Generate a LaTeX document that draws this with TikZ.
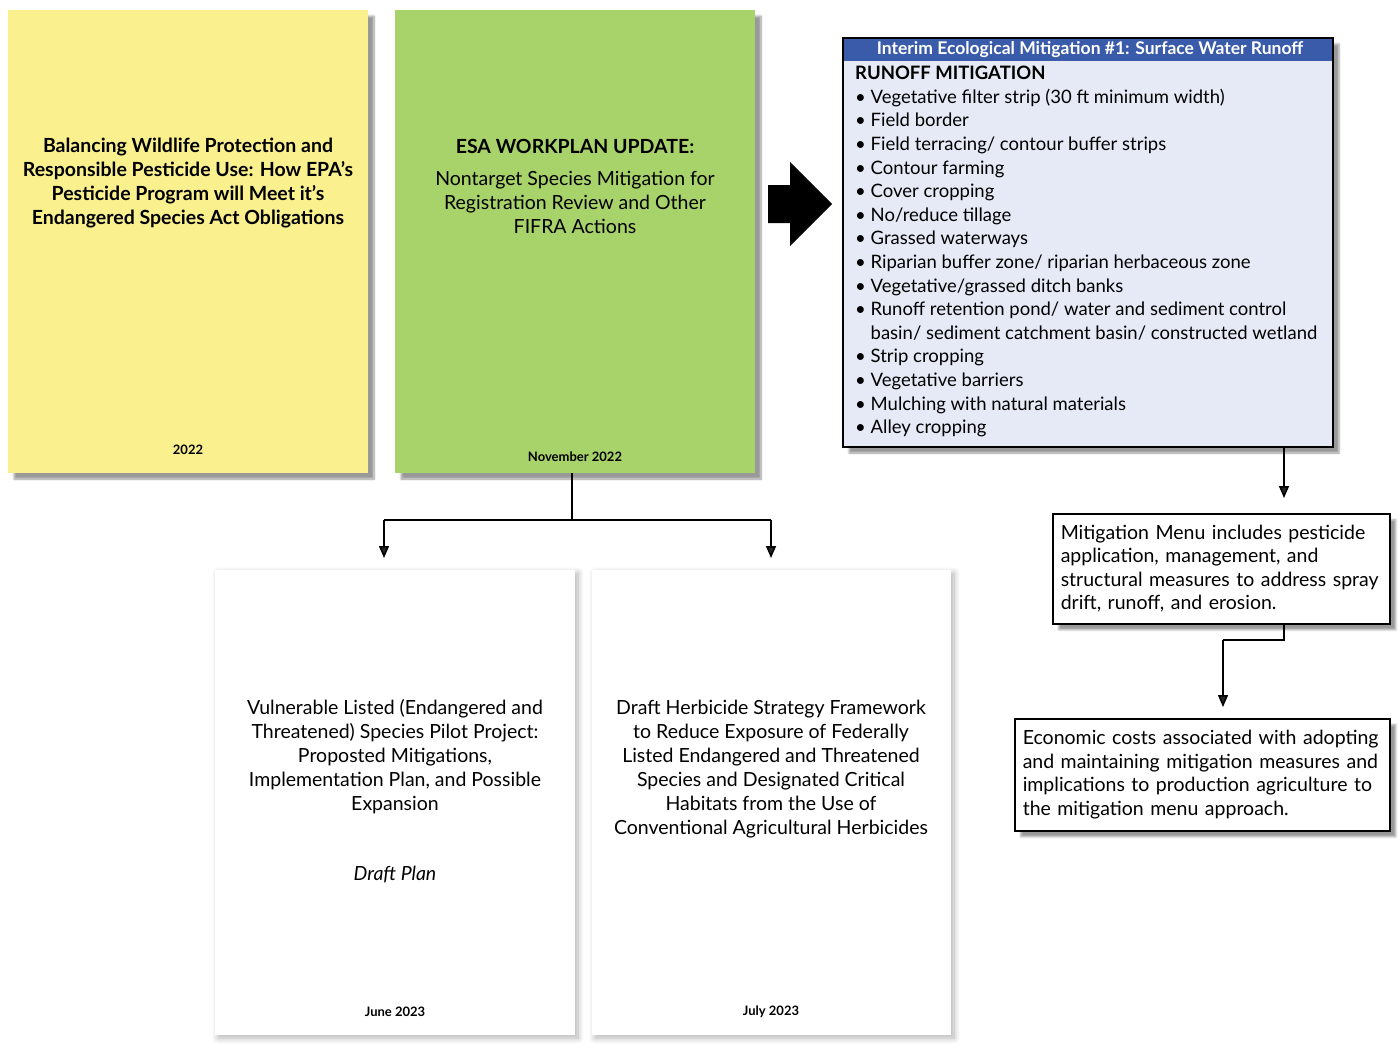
\documentclass[tikz,border=0pt]{standalone}
\usepackage{fontspec}
\setmainfont{Lato}
\usetikzlibrary{shadows.blur,arrows.meta}
\definecolor{yel}{HTML}{FAF08E}
\definecolor{grn}{HTML}{A8D26A}
\definecolor{hdr}{HTML}{3A5BAA}
\definecolor{lblue}{HTML}{E6EAF6}
\tikzset{
 doc/.style={blur shadow={shadow xshift=6pt,shadow yshift=-6pt,shadow blur steps=8}},
 wdoc/.style={blur shadow={shadow xshift=3pt,shadow yshift=-3pt,shadow blur radius=6pt,shadow blur steps=10,shadow opacity=30}},
 txt/.style={align=center,font=\fontsize{19.5}{24}\selectfont},
 small/.style={font=\fontsize{13}{15}\selectfont\bfseries},
 conn/.style={line width=1.5pt,-{Triangle[length=12pt,width=10pt]}},
 note/.style={draw,line width=1.5pt,fill=white,blur shadow={shadow xshift=6pt,shadow yshift=-6pt},align=left,font=\fontsize{19.5}{23.5}\selectfont,inner sep=8pt,anchor=north west}
}
\begin{document}
\begin{tikzpicture}[x=1pt,y=-1pt]
\useasboundingbox (0,0) rectangle (1400,1050);
% yellow
\fill[yel,doc] (8,10) rectangle (368,473);
\node[txt] (y) at (188,183) {\bfseries Balancing Wildlife Protection and\\\bfseries Responsible Pesticide Use: How EPA’s\\\bfseries Pesticide Program will Meet it’s\\\bfseries Endangered Species Act Obligations};
\node[small] (yd) at (188,450) {2022};
% green
\fill[grn,doc] (395,10) rectangle (755,473);
\node[txt] (gt) at (575,146) {\bfseries ESA WORKPLAN UPDATE:};
\node[txt] (gs) at (575,202) {Nontarget Species Mitigation for\\Registration Review and Other\\FIFRA Actions};
\node[small] (gd) at (575,457) {November 2022};
% big arrow
\fill[black] (768,185) -- (790,185) -- (790,162) -- (832,204) -- (790,246) -- (790,223) -- (768,223) -- cycle;
% blue box
\fill[lblue,blur shadow={shadow xshift=6pt,shadow yshift=-6pt}] (843,38) rectangle (1333,447);
\fill[hdr] (843,38) rectangle (1333,61);
\draw[line width=1.5pt] (843,38) rectangle (1333,447);
\node[font=\fontsize{17.5}{20}\selectfont\bfseries,text=white] (bh) at (1090,50) {Interim Ecological Mitigation \#1: Surface Water Runoff};
\node[anchor=north west,align=left,font=\fontsize{18.5}{23.6}\selectfont,inner sep=0pt] (bl) at (855,66) {\bfseries RUNOFF MITIGATION\\
• Vegetative filter strip (30 ft minimum width)\\
• Field border\\
• Field terracing/ contour buffer strips\\
• Contour farming\\
• Cover cropping\\
• No/reduce tillage\\
• Grassed waterways\\
• Riparian buffer zone/ riparian herbaceous zone\\
• Vegetative/grassed ditch banks\\
• Runoff retention pond/ water and sediment control\\
\phantom{• }basin/ sediment catchment basin/ constructed wetland\\
• Strip cropping\\
• Vegetative barriers\\
• Mulching with natural materials\\
• Alley cropping};
\coordinate (bb) at (1284,447);
% white docs
\fill[white,wdoc] (215,570) rectangle (575,1035);
\fill[white,wdoc] (592,570) rectangle (951,1035);
\node[txt] (w1) at (395,757) {Vulnerable Listed (Endangered and\\Threatened) Species Pilot Project:\\Proposted Mitigations,\\Implementation Plan, and Possible\\Expansion};
\node[txt] (w1i) at (395,875) {\itshape Draft Plan};
\node[small] (w1d) at (395,1012) {June 2023};
\node[txt] (w2) at (771,769) {Draft Herbicide Strategy Framework\\to Reduce Exposure of Federally\\Listed Endangered and Threatened\\Species and Designated Critical\\Habitats from the Use of\\Conventional Agricultural Herbicides};
\node[small] (w2d) at (771,1012) {July 2023};
% connectors
\coordinate (gb) at (572,473);
\coordinate (t1) at (384,558);
\coordinate (t2) at (771,558);
\draw[line width=1.5pt] (gb) -- (572,520) -- (384,520);
\draw[conn] (384,520) -- (t1);
\draw[line width=1.5pt] (572,520) -- (771,520);
\draw[conn] (771,520) -- (t2);
% notes
\node[note,text width=321pt,minimum height=110pt] (n1) at (1052,513) {Mitigation Menu includes pesticide\\application, management, and\\structural measures to address spray\\drift, runoff, and erosion.};
\node[note,text width=359pt,minimum height=112pt] (n2) at (1014,718) {Economic costs associated with adopting\\and maintaining mitigation measures and\\implications to production agriculture to\\the mitigation menu approach.};
\draw[conn] (bb) -- (1284,498);
\draw[line width=1.5pt] (1284,623) -- (1284,640) -- (1223,640);
\draw[conn] (1223,640) -- (1223,707);
\end{tikzpicture}
\end{document}
